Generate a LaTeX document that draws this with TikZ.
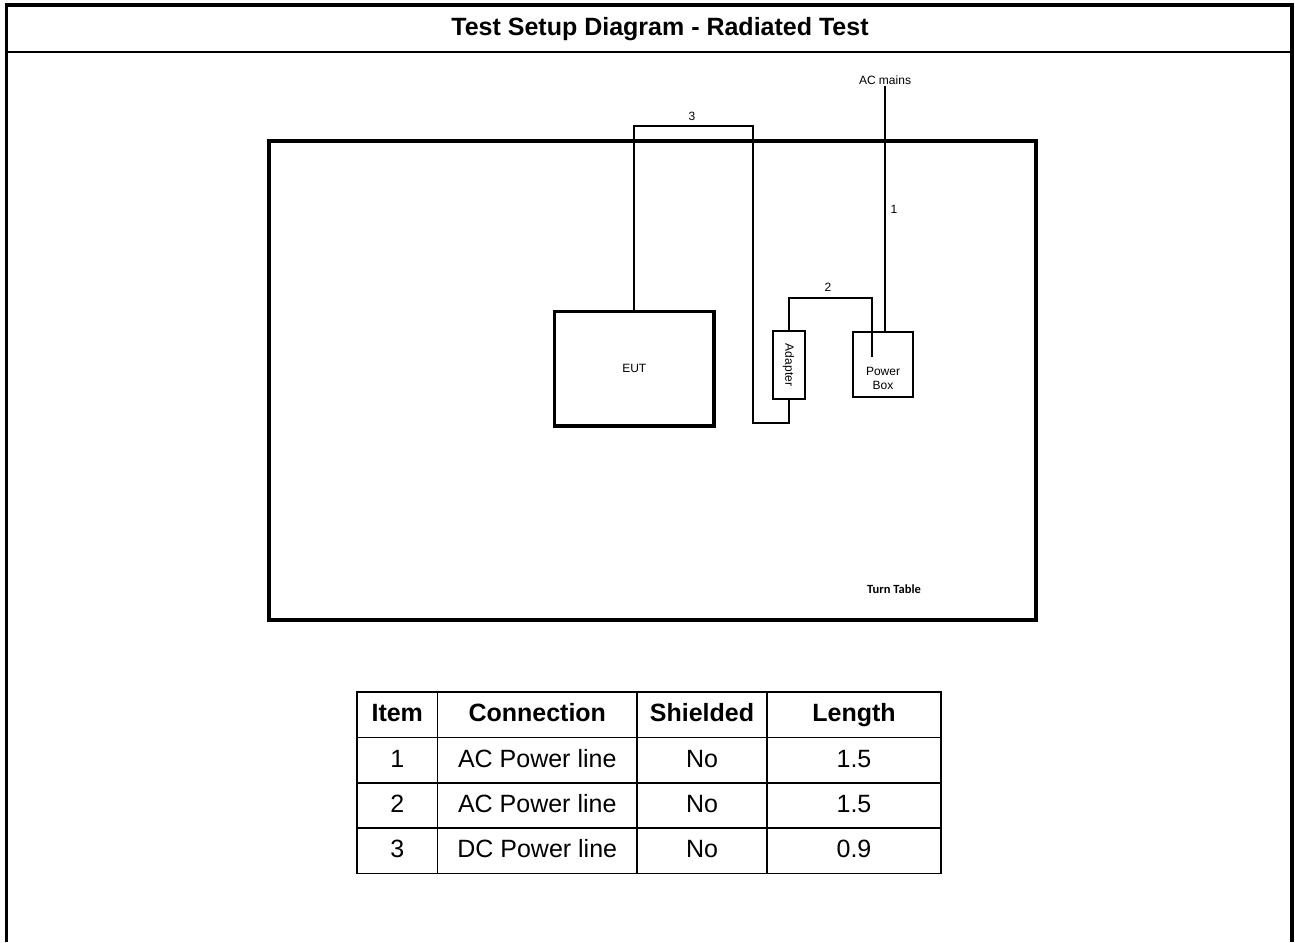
\documentclass[tikz,border=0pt]{standalone}
\usepackage{fontspec}
\setmainfont{Liberation Sans}
\newfontfamily\calibrifont{Carlito}
\usetikzlibrary{positioning}

\begin{document}
\begin{tikzpicture}[
  x=1pt, y=-1pt,
  frame/.style={line width=3.5pt, draw=black},
  unit/.style={draw=black, line width=2pt, inner sep=0pt, outer sep=0pt, align=center,
               font=\fontsize{12}{13.5}\selectfont},
  cable/.style={line width=2pt, draw=black},
  tag/.style={inner sep=1pt, font=\fontsize{12}{13.5}\selectfont},
  cell/.style={draw=black, line width=1.5pt, inner sep=0pt, outer sep=0pt,
               minimum height=45.4pt, text height=18pt, text depth=4pt,
               font=\fontsize{25}{28}\selectfont},
  head/.style={cell, font=\fontsize{25}{28}\selectfont\bfseries},
]
\useasboundingbox (0,0) rectangle (1295,942);
% ----- page frame -----
\draw[frame] (6.5,942) -- (6.5,5) -- (1292,5) -- (1292,942);
\draw[line width=2.5pt] (6.5,52) -- (1292,52);
\node[font=\fontsize{25}{28}\selectfont\bfseries] (title) at (660,29) {Test Setup Diagram - Radiated Test};
% ----- turn table -----
\node[draw=black, line width=4pt, inner sep=0pt, minimum width=767pt, minimum height=479pt] (turntable) at (652,380.5) {};
\node[font=\calibrifont\fontsize{12.5}{13.5}\selectfont\bfseries] (ttlabel) at (894,589) {Turn Table};
% ----- units -----
\node[unit, line width=3.5pt, minimum width=159.5pt, minimum height=114.5pt] (eut) at (634.3,368.8) {EUT};
\node[unit, minimum width=32pt, minimum height=68pt] (adapter) at (788.5,365) {};
\node[rotate=-90, font=\fontsize{12}{13.5}\selectfont] (adtext) at (adapter.center) {Adapter};
\node[unit, minimum width=60pt, minimum height=64.5pt] (powerbox) at (883,364.3) {};
\node[font=\fontsize{12}{13.5}\selectfont, align=center] (pbtext) at ([yshift=-14pt]powerbox.center) {Power\\Box};
\node[tag] (acmains) at (885,80) {AC mains};
% ----- cables -----
\coordinate (c3top) at (752.5,125.5);
\coordinate (c3bot) at (752.5,422.5);
\coordinate (c2top) at (871.5,298);
\coordinate (c2end) at (871.5,357);
\draw[cable] (eut.north) |- (c3top) -- (c3bot) -| (adapter.south);
\draw[cable] (adapter.north) |- (c2top) -- (c2end);
\draw[cable] (acmains.south) -- (acmains.south |- powerbox.north);
\node[tag] (n3) at (692,116) {3};
\node[tag] (n2) at (828,287) {2};
\node[tag] (n1) at (894,209) {1};
% ----- cable table -----
\node[head, minimum width=80.5pt, anchor=north west] (h1) at (357,692) {Item};
\node[head, minimum width=199.5pt, right=0pt of h1] (h2) {Connection};
\node[head, minimum width=130pt, right=0pt of h2] (h3) {Shielded};
\node[head, minimum width=174pt, right=0pt of h3] (h4) {Length};
\node[cell, minimum width=80.5pt, below=0pt of h1] (a1) {1};
\node[cell, minimum width=199.5pt, right=0pt of a1] (a2) {AC Power line};
\node[cell, minimum width=130pt, right=0pt of a2] (a3) {No};
\node[cell, minimum width=174pt, right=0pt of a3] (a4) {1.5};
\node[cell, minimum width=80.5pt, below=0pt of a1] (b1) {2};
\node[cell, minimum width=199.5pt, right=0pt of b1] (b2) {AC Power line};
\node[cell, minimum width=130pt, right=0pt of b2] (b3) {No};
\node[cell, minimum width=174pt, right=0pt of b3] (b4) {1.5};
\node[cell, minimum width=80.5pt, below=0pt of b1] (d1) {3};
\node[cell, minimum width=199.5pt, right=0pt of d1] (d2) {DC Power line};
\node[cell, minimum width=130pt, right=0pt of d2] (d3) {No};
\node[cell, minimum width=174pt, right=0pt of d3] (d4) {0.9};
\end{tikzpicture}
\end{document}
